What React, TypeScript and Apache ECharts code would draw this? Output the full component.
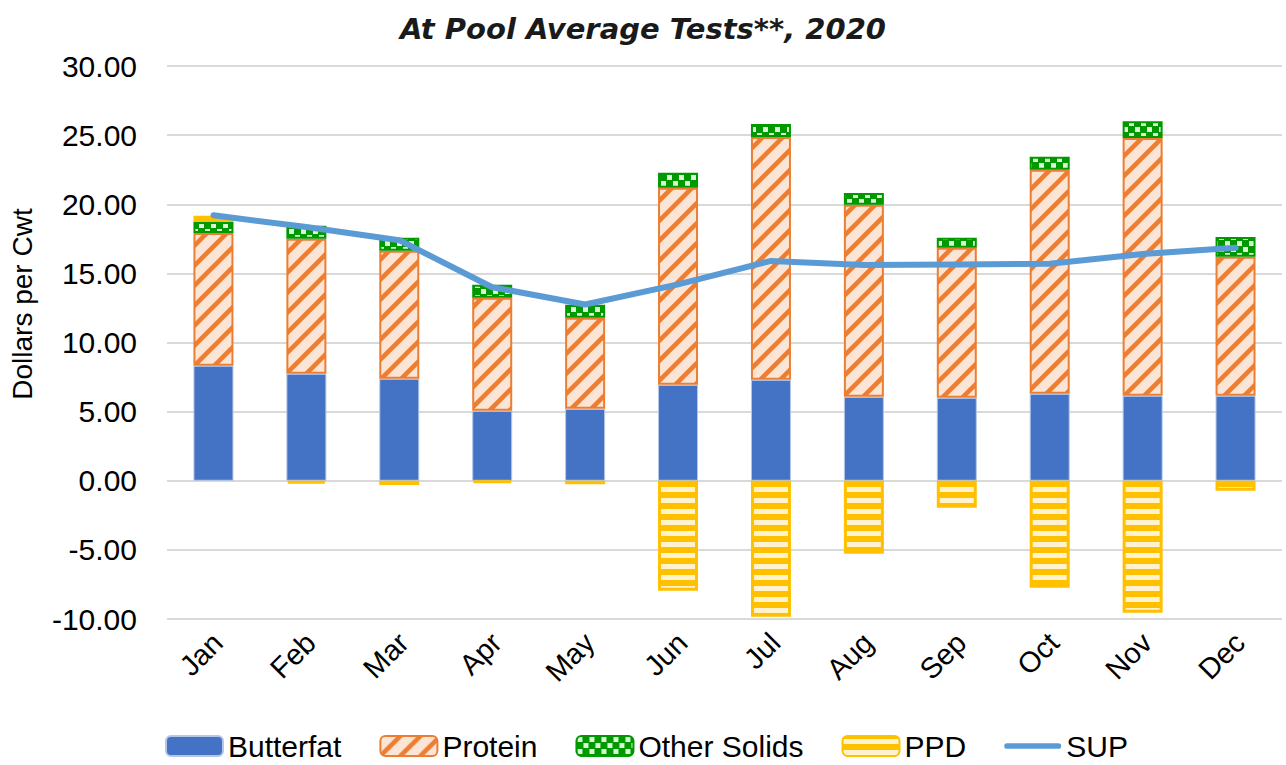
import React, { useEffect, useRef } from "react";
import * as echarts from "echarts";

const months = ["Jan", "Feb", "Mar", "Apr", "May", "Jun", "Jul", "Aug", "Sep", "Oct", "Nov", "Dec"];
const butterfat = [8.32, 7.74, 7.38, 5.06, 5.2, 6.94, 7.3, 6.07, 6.0, 6.29, 6.15, 6.15];
const protein = [9.6, 9.76, 9.25, 8.17, 6.59, 14.25, 17.57, 13.89, 10.85, 16.2, 18.65, 10.05];
const otherSolids = [0.8, 0.94, 0.94, 0.94, 0.94, 1.08, 0.94, 0.86, 0.72, 0.94, 1.2, 1.44];
const ppd = [0.45, -0.2, -0.3, -0.15, -0.25, -7.95, -9.83, -5.28, -1.95, -7.74, -9.55, -0.72];
const sup = [19.2, 18.35, 17.4, 14.0, 12.75, 14.2, 15.9, 15.6, 15.65, 15.7, 16.4, 16.85];

const FONT = "'Liberation Sans', Arial, sans-serif";

function makeCanvas(w: number, h: number, draw: (c: CanvasRenderingContext2D) => void) {
  const cv = document.createElement("canvas");
  cv.width = w;
  cv.height = h;
  const ctx = cv.getContext("2d")!;
  draw(ctx);
  return cv;
}

export default function App() {
  const ref = useRef<HTMLDivElement>(null);
  useEffect(() => {
    if (!ref.current) return;
    const chart = echarts.init(ref.current, undefined, { renderer: "svg" });

    const proteinPat = makeCanvas(20, 20, (c) => {
      c.fillStyle = "#FBE5D6";
      c.fillRect(0, 0, 20, 20);
      c.strokeStyle = "#ED7D31";
      c.lineWidth = 4.5;
      for (let k = -1; k <= 1; k++) {
        c.beginPath();
        c.moveTo(k * 20 - 2, 22);
        c.lineTo(k * 20 + 22, -2);
        c.stroke();
      }
    });
    const solidsPat = makeCanvas(12, 12, (c) => {
      c.fillStyle = "#009900";
      c.fillRect(0, 0, 12, 12);
      c.fillStyle = "#D9F5D6";
      c.fillRect(1, 1, 5, 5);
      c.fillRect(7, 7, 5, 5);
    });
    const ppdPat = makeCanvas(11, 11, (c) => {
      c.fillStyle = "#FFC000";
      c.fillRect(0, 0, 11, 11);
      c.fillStyle = "#FFF2CC";
      c.fillRect(0, 3, 11, 5);
    });

    const barBase = { type: "bar", stack: "total", barWidth: 40 };

    chart.setOption({
      animation: false,
      backgroundColor: "#ffffff",
      title: {
        text: "At Pool Average Tests**, 2020",
        left: "center",
        top: 9,
        textStyle: {
          fontFamily: "'DejaVu Sans', Verdana, sans-serif",
          fontSize: 29,
          fontWeight: "bold",
          fontStyle: "italic",
          color: "#1a1a1a",
        },
      },
      grid: { left: 167, top: 66, width: 1115, height: 553, containLabel: false },
      legend: {
        top: 731,
        left: 165,
        padding: 0,
        itemWidth: 57,
        itemHeight: 20,
        itemGap: 38,
        textStyle: { fontFamily: FONT, fontSize: 30, color: "#000" },
        data: [
          "Butterfat",
          "Protein",
          "Other Solids",
          "PPD",
          { name: "SUP", icon: "path://M3,0 L57,0 A3,3 0 0 1 57,6 L3,6 A3,3 0 0 1 3,0 Z" },
        ],
      },
      xAxis: {
        type: "category",
        data: months,
        axisLine: { show: false, onZero: false },
        axisTick: { show: false },
        axisLabel: {
          rotate: 45,
          fontFamily: FONT,
          fontSize: 29,
          color: "#000",
          margin: 23,
          padding: [0, -6, 0, 0],
        },
      },
      yAxis: {
        type: "value",
        min: -10,
        max: 30,
        interval: 5,
        axisLine: { show: false },
        axisTick: { show: false },
        splitLine: { lineStyle: { color: "#D9D9D9", width: 2 } },
        axisLabel: {
          fontFamily: FONT,
          fontSize: 30,
          color: "#000",
          margin: 30,
          formatter: (v: number) => v.toFixed(2),
        },
      },
      graphic: [
        {
          type: "text",
          x: 22,
          y: 304,
          rotation: Math.PI / 2,
          style: {
            text: "Dollars per Cwt",
            fontFamily: FONT,
            fontSize: 28,
            fill: "#000",
            textAlign: "center",
            textVerticalAlign: "middle",
          },
        },
      ],
      series: [
        {
          ...barBase,
          name: "Butterfat",
          data: butterfat,
          itemStyle: { color: "#4472C4", borderColor: "#B4C7E7", borderWidth: 1 },
        },
        {
          ...barBase,
          name: "Protein",
          data: protein,
          itemStyle: { color: { image: proteinPat, repeat: "repeat" }, borderColor: "#ED7D31", borderWidth: 2 },
        },
        {
          ...barBase,
          name: "Other Solids",
          data: otherSolids,
          itemStyle: { color: { image: solidsPat, repeat: "repeat" }, borderColor: "#009900", borderWidth: 2 },
        },
        {
          ...barBase,
          name: "PPD",
          data: ppd,
          itemStyle: { color: { image: ppdPat, repeat: "repeat" }, borderColor: "#FFC000", borderWidth: 3 },
        },
        {
          type: "line",
          name: "SUP",
          data: sup,
          symbol: "none",
          z: 5,
          lineStyle: { color: "#5B9BD5", width: 6, cap: "round", join: "round" },
          itemStyle: { color: "#5B9BD5" },
        },
      ],
    });
    return () => chart.dispose();
  }, []);
  return <div ref={ref} style={{ position: "fixed", left: 0, top: 0, width: 1286, height: 765 }} />;
}
